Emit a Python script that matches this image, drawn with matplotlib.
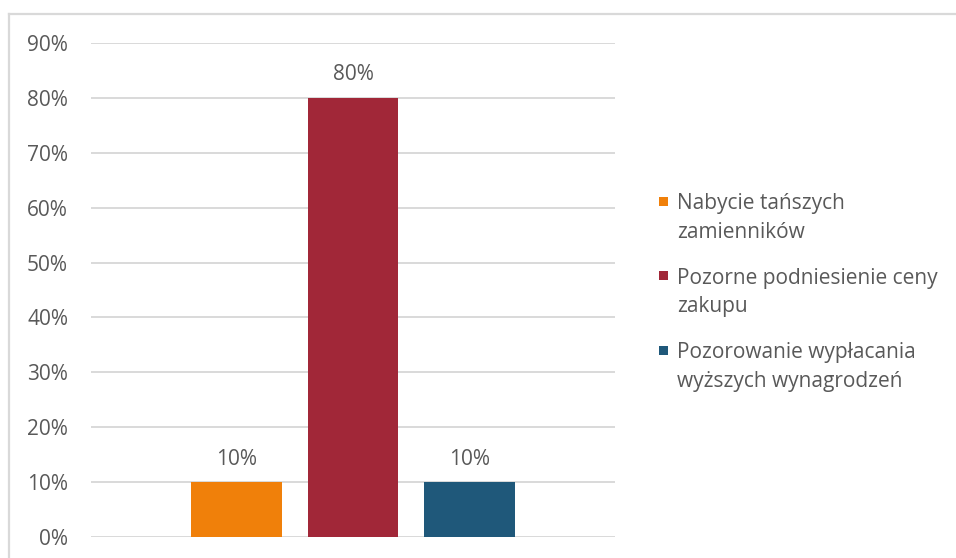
import matplotlib.pyplot as plt
from matplotlib.patches import Rectangle
from matplotlib.lines import Line2D

labels = ['Nabycie tańszych\nzamienników',
          'Pozorne podniesienie ceny\nzakupu',
          'Pozorowanie wypłacania\nwyższych wynagrodzeń']
values = [10, 80, 10]
colors = ['#F0800A', '#A12738', '#1F587A']
yticks = [0, 10, 20, 30, 40, 50, 60, 70, 80, 90]

plt.rcParams['font.family'] = ['Open Sans', 'DejaVu Sans']
text_color = '#595959'
grid_color = '#D9D9D9'
fs = 15

W, H = 956, 558
fig = plt.figure(figsize=(W / 100, H / 100), dpi=100)
ax = fig.add_axes([91 / W, 1 - 537 / H, 524 / W, 494 / H])

x = [0, 1, 2]
bars = ax.bar(x, values, width=0.781, color=colors, zorder=3)
ax.bar_label(bars, labels=[f'{v}%' for v in values], padding=9,
             fontsize=fs, color=text_color)

ax.set_xlim(-1.249, 3.249)
ax.set_ylim(0, 90)
ax.set_yticks(yticks)
ax.set_yticklabels([f'{t}%' for t in yticks], fontsize=fs, color=text_color)
ax.set_xticks([])
ax.tick_params(axis='y', length=0, pad=16.5)
ax.grid(axis='y', color=grid_color, linewidth=1.4, zorder=0)
for s in ax.spines.values():
    s.set_visible(False)

# outer frame (top and left edges visible)
fig.add_artist(Line2D([9 / W, 1], [1 - 14 / H] * 2, color=grid_color,
                      linewidth=1.6, transform=fig.transFigure))
fig.add_artist(Line2D([9 / W] * 2, [0, 1 - 14 / H], color=grid_color,
                      linewidth=1.6, transform=fig.transFigure))

# legend: coloured squares with two-line labels
entry_y = [201, 275.5, 350]
line_gap = 28.5
for lab, c, y0 in zip(labels, colors, entry_y):
    fig.add_artist(Rectangle((659 / W, 1 - (y0 + 4.5) / H), 9 / W, 9 / H,
                             facecolor=c, edgecolor='none',
                             transform=fig.transFigure))
    for i, line in enumerate(lab.split('\n')):
        fig.text(677 / W, 1 - (y0 + i * line_gap) / H, line, fontsize=fs,
                 color=text_color, ha='left', va='center_baseline')

fig.savefig('out.png', dpi=100)
